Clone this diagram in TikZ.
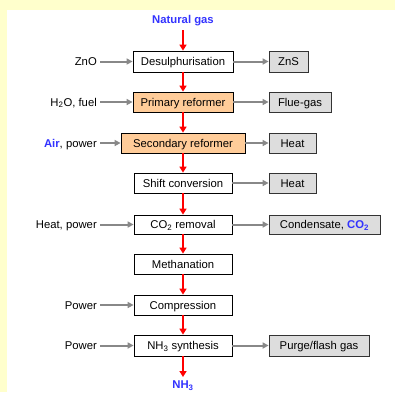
\documentclass[tikz,border=0pt]{standalone}
\usepackage{fontspec}
\setmainfont{Liberation Sans}
\usetikzlibrary{arrows.meta}
\definecolor{bgyellow}{HTML}{FFFFCC}
\definecolor{orangebox}{HTML}{FFCC99}
\definecolor{greybox}{HTML}{DDDDDD}
\definecolor{flowred}{HTML}{FF0000}
\definecolor{greyarrow}{HTML}{888888}
\definecolor{textblue}{HTML}{3333FF}
\begin{document}
\begin{tikzpicture}[x=1pt,y=-1pt,
  font=\fontsize{11.3}{13}\selectfont,
  proc/.style={draw=black,line width=0.8pt,fill=white,inner sep=0pt,minimum height=20pt,text height=8pt,text depth=0pt},
  outbox/.style={draw=black!80,line width=0.8pt,fill=greybox,inner sep=0pt,minimum height=20pt,text height=8pt,text depth=0pt},
  lbl/.style={anchor=east,inner sep=0pt,text height=8pt,text depth=0pt},
  redarrow/.style={draw=flowred,line width=2pt,-{Triangle[length=6pt,width=7pt]}},
  greyarr/.style={draw=greyarrow,line width=2pt,-{Triangle[length=6pt,width=6pt]}},
  blue/.style={text=textblue,font=\fontsize{11.3}{13}\selectfont\bfseries}
]
\useasboundingbox (0,0) rectangle (395,392);
\fill[bgyellow] (0,0) rectangle (395,392);
\fill[white] (7,10) rectangle (395,392);

% main process boxes
\node[proc,minimum width=100pt,minimum height=21pt] (ds) at (183,61.5) {Desulphurisation};
\node[proc,fill=orangebox,minimum width=100pt] (pr) at (183,102) {Primary reformer};
\node[proc,fill=orangebox,minimum width=124pt] (sr) at (183,143) {Secondary reformer};
\node[proc,minimum width=98pt] (sc) at (183,183) {Shift conversion};
\node[proc,minimum width=98pt,minimum height=19pt] (co) at (183,224.5) {CO\textsubscript{2} removal};
\node[proc,minimum width=98pt] (me) at (183,264) {Methanation};
\node[proc,minimum width=98pt] (cp) at (183,305) {Compression};
\node[proc,minimum width=98pt,minimum height=21pt] (nh) at (183,345.5) {NH\textsubscript{3} synthesis};

% output boxes
\node[outbox,minimum width=39pt,minimum height=21pt] (zns) at (288.5,61.5) {ZnS};
\node[outbox,minimum width=62pt] (flue) at (300,102) {Flue-gas};
\node[outbox,minimum width=47pt] (heat1) at (292.5,143) {Heat};
\node[outbox,minimum width=47pt] (heat2) at (292.5,183) {Heat};
\node[outbox,minimum width=111pt,minimum height=19pt] (cond) at (324.5,224.5) {Condensate, \textcolor{textblue}{\bfseries CO\textsubscript{2}}};
\node[outbox,minimum width=100pt,minimum height=21pt] (purge) at (319,345.5) {Purge/flash gas};

% input labels
\node[lbl] (znO) at (97,61.5) {ZnO};
\node[lbl] (h2o) at (97,102) {H\textsubscript{2}O, fuel};
\node[lbl] (air) at (97,143) {\textcolor{textblue}{\bfseries Air}, power};
\node[lbl] (hp) at (97,224.5) {Heat, power};
\node[lbl] (pw1) at (97,305) {Power};
\node[lbl] (pw2) at (97,345.5) {Power};

% top and bottom
\node[blue] (ng) at (183,21) {Natural gas};
\coordinate (ngend) at (183,30);
\coordinate (nhend) at (183,377);
\node[blue,anchor=south,inner sep=0pt] (nh3) at (183,391) {NH\textsubscript{3}};

% red flow arrows
\draw[redarrow] (ngend) -- (ds.north);
\draw[redarrow] (ds.south) -- (pr.north);
\draw[redarrow] (pr.south) -- (sr.north);
\draw[redarrow] (sr.south) -- (sc.north);
\draw[redarrow] (sc.south) -- (co.north);
\draw[redarrow] (co.south) -- (me.north);
\draw[redarrow] (me.south) -- (cp.north);
\draw[redarrow] (cp.south) -- (nh.north);
\draw[redarrow] (nh.south) -- (nhend);

% grey input arrows
\draw[greyarr,shorten <=3pt] (znO.east) -- (ds.west);
\draw[greyarr,shorten <=3pt] (h2o.east) -- (pr.west);
\draw[greyarr,shorten <=3pt] (air.east) -- (sr.west);
\draw[greyarr,shorten <=3pt] (hp.east) -- (co.west);
\draw[greyarr,shorten <=3pt] (pw1.east) -- (cp.west);
\draw[greyarr,shorten <=3pt] (pw2.east) -- (nh.west);

% grey output arrows
\draw[greyarr] (ds.east) -- (zns.west);
\draw[greyarr] (pr.east) -- (flue.west);
\draw[greyarr] (sr.east) -- (heat1.west);
\draw[greyarr] (sc.east) -- (heat2.west);
\draw[greyarr] (co.east) -- (cond.west);
\draw[greyarr] (nh.east) -- (purge.west);
\end{tikzpicture}
\end{document}
